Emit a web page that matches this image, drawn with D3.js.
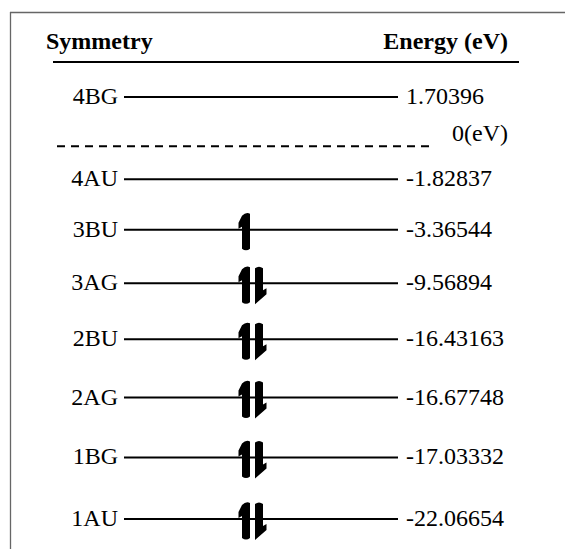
<!DOCTYPE html>
<html><head><meta charset="utf-8">
<script src="https://cdn.jsdelivr.net/npm/d3@7"></script>
<style>
html,body{margin:0;padding:0;background:#fff;}
svg{display:block;}
text{font-family:"Liberation Serif","Times New Roman",serif;fill:#000;}
</style></head>
<body>
<script>
// ---- data ----
const symmetries = ["4BG","4AU","3BU","3AG","2BU","2AG","1BG","1AU"];
const energies = ["1.70396","-1.82837","-3.36544","-9.56894","-16.43163","-16.67748","-17.03332","-22.06654"];
const occupancy = [0,0,1,2,2,2,2,2];
const headers = ["Symmetry","Energy (eV)"];
const zeroLabel = "0(eV)";

// ---- layout ----
const W = 565, H = 549;
const svg = d3.select("body").append("svg").attr("width", W).attr("height", H);

// slots: 0 = first level, 1 = zero line slot, 2.. = remaining levels
const slotOf = i => i === 0 ? 0 : i + 1;
const y = d3.scalePow().exponent(1.18).domain([0, 8]).range([97, 519]);
const x = d3.scaleLinear().domain([0, 1]).range([124, 398]);
const fs = 24;

// frame
svg.append("line").attr("x1", 10.5).attr("x2", 10.5).attr("y1", 12).attr("y2", H)
  .attr("stroke", "#666").attr("stroke-width", 1.3);
svg.append("line").attr("x1", 10).attr("x2", W).attr("y1", 12.5).attr("y2", 12.5)
  .attr("stroke", "#666").attr("stroke-width", 1.3);

// headers
svg.append("text").attr("x", 46).attr("y", 49)
  .attr("font-weight", "bold").attr("font-size", fs).text(headers[0]);
svg.append("text").attr("x", 508).attr("y", 49)
  .attr("text-anchor", "end").attr("font-weight", "bold").attr("font-size", fs).text(headers[1]);
svg.append("line").attr("x1", 53).attr("x2", 519).attr("y1", 62).attr("y2", 62)
  .attr("stroke", "#000").attr("stroke-width", 2);

// zero line
const yZero = y(0) + 0.6 * (y(2) - y(0));
svg.append("line").attr("x1", 57).attr("x2", 434).attr("y1", yZero).attr("y2", yZero)
  .attr("stroke", "#000").attr("stroke-width", 2).attr("stroke-dasharray", "8,6");
svg.append("text").attr("x", 508).attr("y", yZero - 5)
  .attr("text-anchor", "end").attr("font-size", fs).text(zeroLabel);

// levels
const rows = symmetries.map((s, i) => ({s, e: energies[i], occ: occupancy[i], y: y(slotOf(i))}));
const g = svg.selectAll("g.level").data(rows).join("g").attr("class", "level");

g.append("line").attr("x1", x(0)).attr("x2", x(1)).attr("y1", d => d.y).attr("y2", d => d.y)
  .attr("stroke", "#000").attr("stroke-width", 2);
g.append("text").attr("x", 118).attr("y", d => d.y + 7)
  .attr("text-anchor", "end").attr("font-size", fs).text(d => d.s);
g.append("text").attr("x", 406).attr("y", d => d.y + 7)
  .attr("font-size", fs).text(d => d.e);

// electrons (half-arrows)
const upX = 246, dnX = 259;
function upArrow(sel, cx, cy) {
  const top = cy - 17, bot = cy + 21;
  sel.append("path")
    .attr("d", `M${cx-4},${top+3} Q${cx},${top-1} ${cx+4},${top+1} L${cx+4},${bot-2} Q${cx},${bot+1} ${cx-4},${bot-2} L${cx-4},${top+14} L${cx-7.5},${top+16} L${cx-7.5},${top+10} Z`)
    .attr("fill", "#000");
}
function downArrow(sel, cx, cy) {
  const top = cy - 17, bot = cy + 21;
  sel.append("path")
    .attr("d", `M${cx-4},${top+2} Q${cx},${top-1} ${cx+4},${top+2} L${cx+4},${bot-14} L${cx+7.5},${bot-16} L${cx+7.5},${bot-10} L${cx-4},${bot} Z`)
    .attr("fill", "#000");
}
g.each(function(d) {
  const sel = d3.select(this);
  if (d.occ >= 1) upArrow(sel, upX, d.y);
  if (d.occ >= 2) downArrow(sel, dnX, d.y);
});
</script>
</body></html>
